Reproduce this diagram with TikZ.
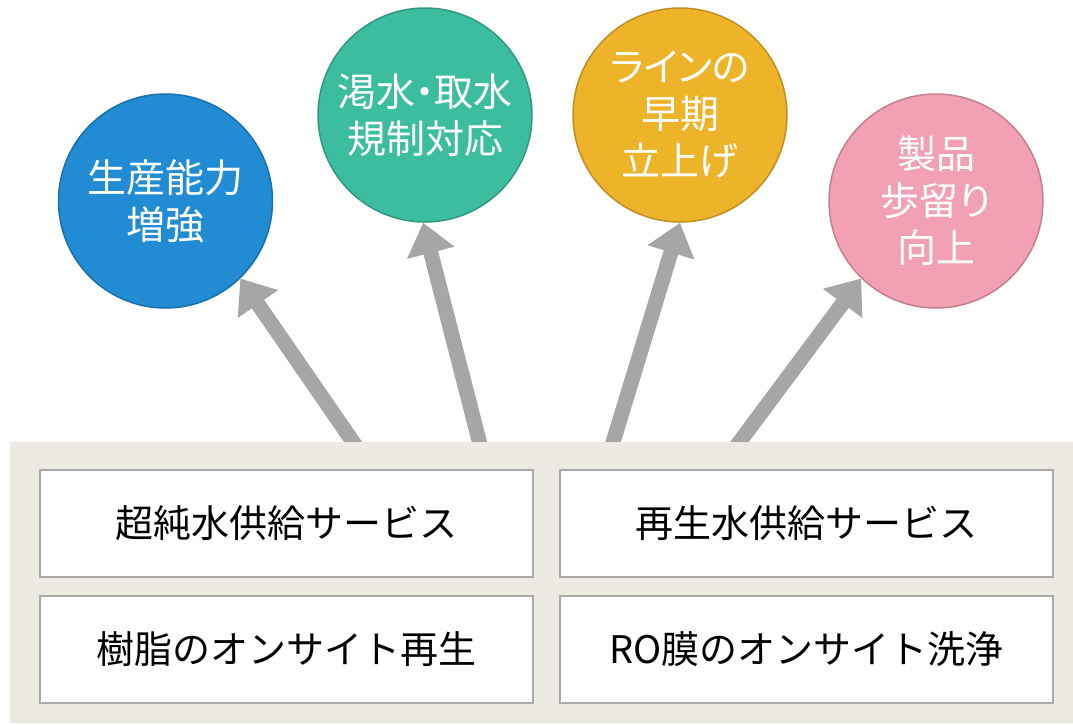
\documentclass[tikz,border=0pt]{standalone}
\usepackage{fontspec}
\usepackage{xcolor}
\usepackage{tikz}
\setmainfont{Noto Sans CJK JP}
\newfontfamily\goalfont[RawFeature=+palt]{Noto Sans CJK JP}
\usetikzlibrary{arrows.meta, positioning}
\definecolor{bluecolor}{RGB}{33,140,211}
\definecolor{tealcolor}{RGB}{61,189,160}
\definecolor{yellowcolor}{RGB}{237,179,41}
\definecolor{pinkcolor}{RGB}{241,161,179}
\definecolor{arrowcolor}{RGB}{166,166,166}
\definecolor{panelcolor}{RGB}{237,233,227}
\definecolor{boxline}{RGB}{170,170,170}

\begin{document}
\begin{tikzpicture}[
    x=1pt, y=-1pt,
    goal/.style={circle, draw=#1!80!black, line width=1.5pt, fill=#1, minimum size=214pt, inner sep=0pt, text=white, align=center, font=\goalfont\fontsize{39pt}{47pt}\selectfont},
    service/.style={draw=boxline, line width=2pt, fill=white, minimum width=493pt, minimum height=107pt, inner sep=0pt, font=\fontsize{38pt}{46pt}\selectfont},
    push/.style={-{Triangle[width=47pt, length=31pt]}, line width=15pt, arrowcolor}
]
    \useasboundingbox (0,0) rectangle (1073,724);

    % Goals
    \node[goal=bluecolor] (capacity) at (165.5,201) {生産能力\\増強};
    \node[goal=tealcolor] (water) at (425,115) {渇水・取水\\規制対応};
    \node[goal=yellowcolor] (ramp) at (680,115) {ラインの\\早期\\立上げ};
    \node[goal=pinkcolor] (yield) at (936,201) {製品\\歩留り\\向上};

    % Arrows from the services
    \coordinate (s1) at (360,452);
    \coordinate (s2) at (482,452);
    \coordinate (s3) at (610,452);
    \coordinate (s4) at (732,452);
    \draw[push] (s1) -- (capacity.-46);
    \draw[push] (s2) -- (water.-91);
    \draw[push] (s3) -- (ramp.-90);
    \draw[push] (s4) -- (yield.-134);

    % Services
    \fill[panelcolor] (10,442) rectangle (1073,723);
    \node[service] (upw) at (286.5,523.5) {超純水供給サービス};
    \node[service] (reuse) at (806.5,523.5) {再生水供給サービス};
    \node[service] (resin) at (286.5,649) {樹脂のオンサイト再生};
    \node[service] (romem) at (806.5,649) {RO膜のオンサイト洗浄};
\end{tikzpicture}
\end{document}
